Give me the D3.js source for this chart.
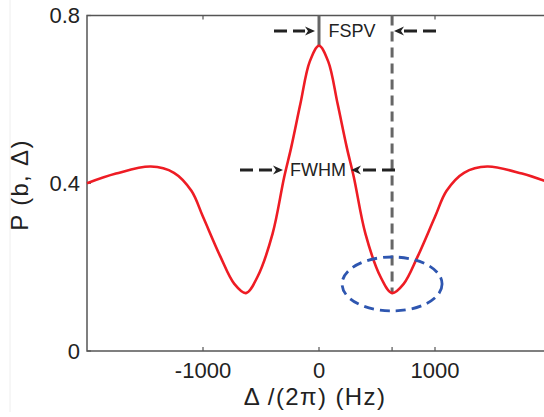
<!DOCTYPE html>
<meta charset="utf-8">
<style>
body { margin: 0; background: #fff; }
text { font-family: Arial, "Liberation Sans", sans-serif; fill: #222; }
</style>
<svg width="544" height="417"></svg>
<script src="https://d3js.org/d3.v7.min.js"></script>
<script>

// curve (Hz, P)
var detuning = [-2000,-1750,-1450,-1250,-1100,-1000,-850,-730,-630,-530,-400,-300,-240,-160,-80,0,
                 80,160,240,300,400,530,630,730,850,1000,1100,1250,1450,1750,2000];
var prob     = [0.40,0.423,0.44,0.425,0.382,0.32,0.225,0.16,0.138,0.177,0.28,0.415,0.485,0.59,0.69,0.728,
                0.69,0.59,0.485,0.415,0.28,0.177,0.138,0.16,0.225,0.32,0.382,0.425,0.44,0.423,0.40];
var xTicks = [-1000, 0, 1000];
var yTicks = [0, 0.4, 0.8];
var peakX = 0, peakY = 0.728, dipX = 630, dipY = 0.138;

var svg = d3.select("svg"),
    margin = {top: 15.5, left: 87},
    width = 464,
    height = 335.5;

var x = d3.scaleLinear().domain([-2000, 2000]).range([margin.left, margin.left + width]);
var y = d3.scaleLinear().domain([0, 0.8]).range([margin.top + height, margin.top]);

// faint edge line at far left
svg.append("line").attr("x1", 10).attr("x2", 10).attr("y1", 0).attr("y2", 412)
  .attr("stroke", "#eee").attr("stroke-width", 1);

var axisColor = "#555";

// frame
svg.append("path")
  .attr("d", "M" + x(2000) + "," + y(0.8) + "H" + x(-2000) + "V" + y(0) + "H" + x(2000))
  .attr("fill", "none").attr("stroke", axisColor).attr("stroke-width", 1.5);

// ticks
var g = svg.append("g");
xTicks.concat([dipX]).forEach(function(t) {
  g.append("line").attr("x1", x(t)).attr("x2", x(t)).attr("y1", y(0)).attr("y2", y(0) - 4)
    .attr("stroke", axisColor).attr("stroke-width", 1.2);
});
xTicks.forEach(function(t) {
  g.append("line").attr("x1", x(t)).attr("x2", x(t)).attr("y1", y(0.8)).attr("y2", y(0.8) + 4)
    .attr("stroke", axisColor).attr("stroke-width", 1.2);
  g.append("text").attr("x", x(t)).attr("y", 378)
    .attr("text-anchor", "middle").style("font-size", "22px")
    .text(String(t));
});
yTicks.forEach(function(t) {
  g.append("line").attr("x1", x(-2000)).attr("x2", x(-2000) + 4).attr("y1", y(t)).attr("y2", y(t))
    .attr("stroke", axisColor).attr("stroke-width", 1.2);
  g.append("text").attr("x", margin.left - 7).attr("y", y(t)).attr("dy", "0.36em")
    .attr("text-anchor", "end").style("font-size", "22px").text(t);
});

// axis titles
svg.append("text").attr("x", 315).attr("y", 405).attr("text-anchor", "middle")
  .style("font-size", "24px").style("letter-spacing", "1.4px").text("\u0394 /(2\u03c0) (Hz)");
svg.append("text").attr("transform", "translate(28,185) rotate(-90)").attr("text-anchor", "middle")
  .style("font-size", "24px").style("letter-spacing", "1.3px").text("P (b, \u0394)");

// dashed verticals
svg.append("line").attr("x1", x(peakX)).attr("x2", x(peakX)).attr("y1", y(0.8)).attr("y2", y(peakY))
  .attr("stroke", "#666").attr("stroke-width", 3);
svg.append("line").attr("x1", x(dipX)).attr("x2", x(dipX)).attr("y1", y(0.8)).attr("y2", y(dipY))
  .attr("stroke", "#666").attr("stroke-width", 3).attr("stroke-dasharray", "10,6");

// curve
var line = d3.line()
  .x(function(d, i) { return x(detuning[i]); })
  .y(function(d) { return y(d); })
  .curve(d3.curveCatmullRom.alpha(0.5));
svg.append("path").datum(prob).attr("d", line)
  .attr("fill", "none").attr("stroke", "#ee1c24").attr("stroke-width", 2.6);

// ellipse around the dip
svg.append("ellipse").attr("cx", x(dipX)).attr("cy", 284).attr("rx", 50).attr("ry", 27)
  .attr("fill", "none").attr("stroke", "#2e56b0").attr("stroke-width", 2.8)
  .attr("stroke-dasharray", "10,6");

// dashed arrows
function arrow(x0, x1, yy) {
  var dir = x1 > x0 ? 1 : -1;
  var headLen = 10;
  svg.append("line").attr("x1", x0).attr("x2", x1 - dir * headLen).attr("y1", yy).attr("y2", yy)
    .attr("stroke", "#222").attr("stroke-width", 3).attr("stroke-dasharray", "13,6");
  svg.append("path")
    .attr("d", "M" + x1 + "," + yy + "L" + (x1 - dir * headLen) + "," + (yy - 4.5) +
               "L" + (x1 - dir * 7) + "," + yy + "L" + (x1 - dir * headLen) + "," + (yy + 4.5) + "Z")
    .attr("fill", "#222");
}
var yFspv = 31, yFwhm = 170;
arrow(274, 315, yFspv);
arrow(436, 394, yFspv);
arrow(240, 283, yFwhm);
arrow(395, 351, yFwhm);

svg.append("text").attr("x", 352).attr("y", yFspv).attr("dy", "0.36em").attr("text-anchor", "middle")
  .style("font-size", "18px").text("FSPV");
svg.append("text").attr("x", 318).attr("y", yFwhm).attr("dy", "0.36em").attr("text-anchor", "middle")
  .style("font-size", "18px").text("FWHM");

</script>
